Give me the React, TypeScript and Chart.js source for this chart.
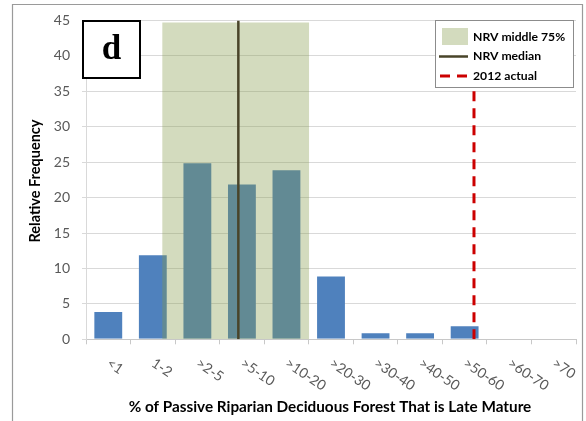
import React, { useEffect, useRef } from "react";
import { Chart, registerables } from "chart.js";

Chart.register(...registerables);

// ---- data ----
const categories = ["<1", "1-2", ">2-5", ">5-10", ">10-20", ">20-30", ">30-40", ">40-50", ">50-60", ">60-70", ">70"];
const frequencies = [4, 12, 25, 22, 24, 9, 1, 1, 2, 0, 0];
// positions in category-index units (0 = first category centre)
const nrvMiddleRange = [1.21, 4.51];
const nrvMiddleTop = 44.7;
const nrvMedian = 2.92;
const actual2012 = 8.21;
const yMin = 0;
const yMax = 45;
const yStep = 5;
const legendLabels = ["NRV middle 75%", "NRV median", "2012 actual"];
const panelLetter = "d";
const xTitle = "% of Passive Riparian Deciduous Forest That is Late Mature";
const yTitle = "Relative Frequency";

const FONT = "Lato, 'Open Sans', sans-serif";
const BAR_COLOR = "#4f81bd";
const BAND_COLOR = "rgba(133,155,74,0.36)";
const BAND_SWATCH = "rgb(211,219,190)";
const MEDIAN_COLOR = "#494429";
const ACTUAL_COLOR = "#cc0000";

const decorPlugin = {
  id: "decor",
  beforeDraw(chart: any) {
    const ctx = chart.ctx;
    ctx.save();
    ctx.strokeStyle = "#9a9a9a";
    ctx.lineWidth = 1.2;
    ctx.beginPath();
    ctx.moveTo(12.5, 421);
    ctx.lineTo(12.5, 4.5);
    ctx.lineTo(582.5, 4.5);
    ctx.lineTo(582.5, 421);
    ctx.stroke();
    ctx.restore();
  },
  afterDraw(chart: any) {
    const ctx = chart.ctx;
    const xs = chart.scales.x;
    ctx.save();
    // x tick labels, rotated clockwise
    ctx.font = `14px ${FONT}`;
    ctx.fillStyle = "#595959";
    ctx.textAlign = "left";
    ctx.textBaseline = "top";
    categories.forEach((c, i) => {
      const px = xs.getPixelForValue(i);
      ctx.save();
      ctx.translate(px + 4, 356);
      ctx.rotate((34 * Math.PI) / 180);
      ctx.fillText(c, 0, 0);
      ctx.restore();
    });
    // x title
    ctx.font = `bold 15.3px ${FONT}`;
    ctx.fillStyle = "#000";
    ctx.textAlign = "center";
    ctx.textBaseline = "middle";
    ctx.fillText(xTitle, 330, 407);
    // y title
    ctx.save();
    ctx.translate(35, 181);
    ctx.rotate(-Math.PI / 2);
    ctx.font = `bold 14.5px ${FONT}`;
    ctx.fillText(yTitle, 0, 0);
    ctx.restore();
    // panel letter box
    ctx.fillStyle = "#fff";
    ctx.fillRect(83, 21, 57, 57);
    ctx.strokeStyle = "#000";
    ctx.lineWidth = 2;
    ctx.strokeRect(83, 21, 57, 57);
    ctx.fillStyle = "#000";
    ctx.font = `bold 35px 'Liberation Serif', 'DejaVu Serif', serif`;
    ctx.textAlign = "center";
    ctx.textBaseline = "middle";
    ctx.fillText(panelLetter, 111.5, 50);
    // legend
    ctx.fillStyle = "#fff";
    ctx.fillRect(435.5, 20.5, 138, 67);
    ctx.strokeStyle = "#8c8c8c";
    ctx.lineWidth = 1;
    ctx.strokeRect(435.5, 20.5, 138, 67);
    ctx.fillStyle = BAND_SWATCH;
    ctx.fillRect(442, 28, 26, 17);
    ctx.strokeStyle = MEDIAN_COLOR;
    ctx.lineWidth = 2.5;
    ctx.beginPath();
    ctx.moveTo(439, 56.5);
    ctx.lineTo(468, 56.5);
    ctx.stroke();
    ctx.strokeStyle = ACTUAL_COLOR;
    ctx.lineWidth = 3;
    ctx.setLineDash([10, 7]);
    ctx.beginPath();
    ctx.moveTo(440, 76);
    ctx.lineTo(468, 76);
    ctx.stroke();
    ctx.setLineDash([]);
    ctx.fillStyle = "#000";
    ctx.font = `bold 12.2px ${FONT}`;
    ctx.textAlign = "left";
    ctx.textBaseline = "middle";
    ctx.fillText(legendLabels[0], 473, 37);
    ctx.fillText(legendLabels[1], 473, 56);
    ctx.fillText(legendLabels[2], 473, 76);
    ctx.restore();
  },
};

export default function App() {
  const ref = useRef<HTMLCanvasElement | null>(null);
  useEffect(() => {
    const canvas = ref.current;
    if (!canvas) return;
    const chart = new Chart(canvas, {
      type: "bar",
      data: {
        labels: categories,
        datasets: [
          {
            type: "line",
            label: legendLabels[2],
            data: [
              { x: actual2012, y: yMin },
              { x: actual2012, y: yMax },
            ],
            xAxisID: "xl",
            borderColor: ACTUAL_COLOR,
            borderWidth: 3,
            borderDash: [10, 7],
            pointRadius: 0,
            fill: false,
            order: 0,
          } as any,
          {
            type: "line",
            label: legendLabels[1],
            data: [
              { x: nrvMedian, y: yMin },
              { x: nrvMedian, y: yMax },
            ],
            xAxisID: "xl",
            borderColor: MEDIAN_COLOR,
            borderWidth: 2.5,
            pointRadius: 0,
            fill: false,
            order: 1,
          } as any,
          {
            type: "line",
            label: legendLabels[0],
            data: [
              { x: nrvMiddleRange[0], y: nrvMiddleTop },
              { x: nrvMiddleRange[1], y: nrvMiddleTop },
            ],
            xAxisID: "xl",
            borderWidth: 0,
            borderColor: "rgba(0,0,0,0)",
            backgroundColor: BAND_COLOR,
            pointRadius: 0,
            fill: "origin",
            order: 2,
          } as any,
          {
            type: "bar",
            label: "Frequency",
            data: frequencies,
            xAxisID: "x",
            backgroundColor: BAR_COLOR,
            borderColor: "rgba(255,255,255,0.12)",
            borderWidth: 1,
            barPercentage: 0.67,
            categoryPercentage: 1,
            grouped: false,
            order: 3,
          } as any,
        ],
      },
      options: {
        responsive: false,
        animation: false,
        devicePixelRatio: 1,
        layout: { padding: { top: 19, left: 0, right: 10, bottom: 0 } },
        plugins: { legend: { display: false }, tooltip: { enabled: false } },
        scales: {
          x: {
            type: "category",
            offset: true,
            grid: {
              display: true,
              offset: true,
              drawOnChartArea: false,
              drawTicks: true,
              tickLength: 5,
              color: "#c8c8c8",
            },
            border: { display: true, color: "#c8c8c8" },
            ticks: { display: false },
            afterFit: (s: any) => {
              s.height = 421 - 339.3;
            },
          },
          xl: {
            type: "linear",
            display: false,
            min: -0.5,
            max: categories.length - 0.5,
            offset: false,
          },
          y: {
            min: yMin,
            max: yMax,
            ticks: {
              stepSize: yStep,
              color: "#595959",
              font: { family: FONT, size: 14 },
              padding: 12,
            },
            grid: { color: "#d9d9d9", tickLength: 4, drawTicks: true },
            border: { display: true, color: "#d9d9d9" },
            afterFit: (s: any) => {
              s.width = 86;
            },
          },
        },
      } as any,
      plugins: [decorPlugin],
    });
    return () => chart.destroy();
  }, []);
  return (
    <div style={{ position: "fixed", left: 0, top: 0, width: 586, height: 421, background: "#fff" }}>
      <canvas ref={ref} width={586} height={421} style={{ width: 586, height: 421, display: "block" }} />
    </div>
  );
}
